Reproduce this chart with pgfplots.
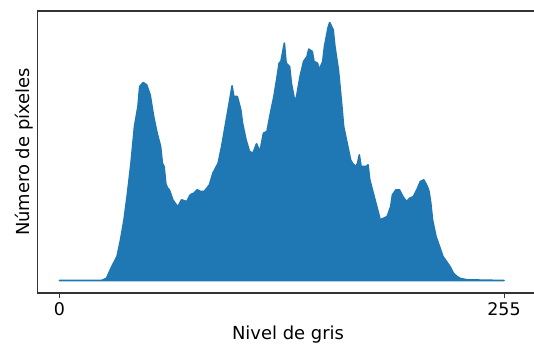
\documentclass[border=0pt]{standalone}
\usepackage{pgfplots}
\pgfplotsset{compat=1.18}
\usepackage{fontspec}
\setmainfont{DejaVu Sans}
\definecolor{histblue}{HTML}{1F77B4}

\begin{document}
\begin{tikzpicture}[x=1bp,y=1bp]
\useasboundingbox (0,0) rectangle (534,345);
\begin{axis}[
  at={(37.5bp,52bp)}, anchor=south west,
  width=501bp, height=282bp, scale only axis,
  xmin=-12.63, xmax=274.8,
  ymin=-37.5, ymax=808.5,
  xtick={0,255}, ytick=\empty,
  xtick pos=bottom,
  tick align=outside, major tick length=5bp,
  xtick style={black!80, line width=1bp},
  axis line style={black!80, line width=1.1bp},
  tick label style={font=\fontsize{17.5}{20}\selectfont},
  xticklabel style={yshift=-1.5bp},
  /pgf/number format/assume math mode=true,
  xlabel={Nivel de gris}, ylabel={Número de píxeles},
  label style={font=\fontsize{18}{21}\selectfont},
  xlabel style={at={(axis description cs:0.5,0)}, anchor=base, yshift=-46.3bp},
  ylabel style={at={(axis description cs:0,0.5)}, anchor=base, yshift=8.2bp},
]
% grey-level histogram, counts in arbitrary units
\addplot[fill=histblue, draw=histblue, line width=1.6bp, line join=round] coordinates {
(0,0) (24,0) (25,2) (27,7) (30,42) (33,72) (35,122) (37,182) (39,262) (41,352)
(43,462) (45,522) (46,582) (48,594) (50,587) (52,557) (54,492) (56,442) (58,402)
(59,352) (60,342) (61,290) (62,277) (63,272) (65,242) (67,227) (68,222) (70,242)
(73,237) (75,257) (77,262) (79,272) (81,267) (83,267) (86,287) (88,322) (91,352)
(93,402) (95,462) (97,522) (99,584) (100,552) (102,552) (104,512) (105,472)
(107,422) (109,387) (111,382) (113,410) (115,387) (117,442) (119,447) (121,502)
(123,552) (125,617) (126,652) (127,657) (129,712) (130,652) (132,642) (133,592)
(135,537) (136,552) (138,612) (140,657) (142,672) (143,694) (145,687) (146,657)
(148,652) (149,632) (151,657) (152,702) (154,757) (155,774) (157,752) (158,702)
(160,632) (162,522) (163,462) (165,412) (167,362) (168,352) (170,342) (171,352)
(172,377) (173,342) (174,342) (176,342) (177,347) (178,302) (180,262) (182,222)
(184,182) (186,187) (188,192) (190,222) (191,257) (193,272) (195,272) (197,252)
(199,237) (201,247) (203,252) (205,272) (207,297) (209,302) (211,282) (212,267)
(213,232) (214,182) (216,132) (218,102) (220,72) (222,57) (224,42) (226,22)
(228,12) (230,6) (234,2) (255,0)
} \closedcycle;
\end{axis}
\end{tikzpicture}
\end{document}
